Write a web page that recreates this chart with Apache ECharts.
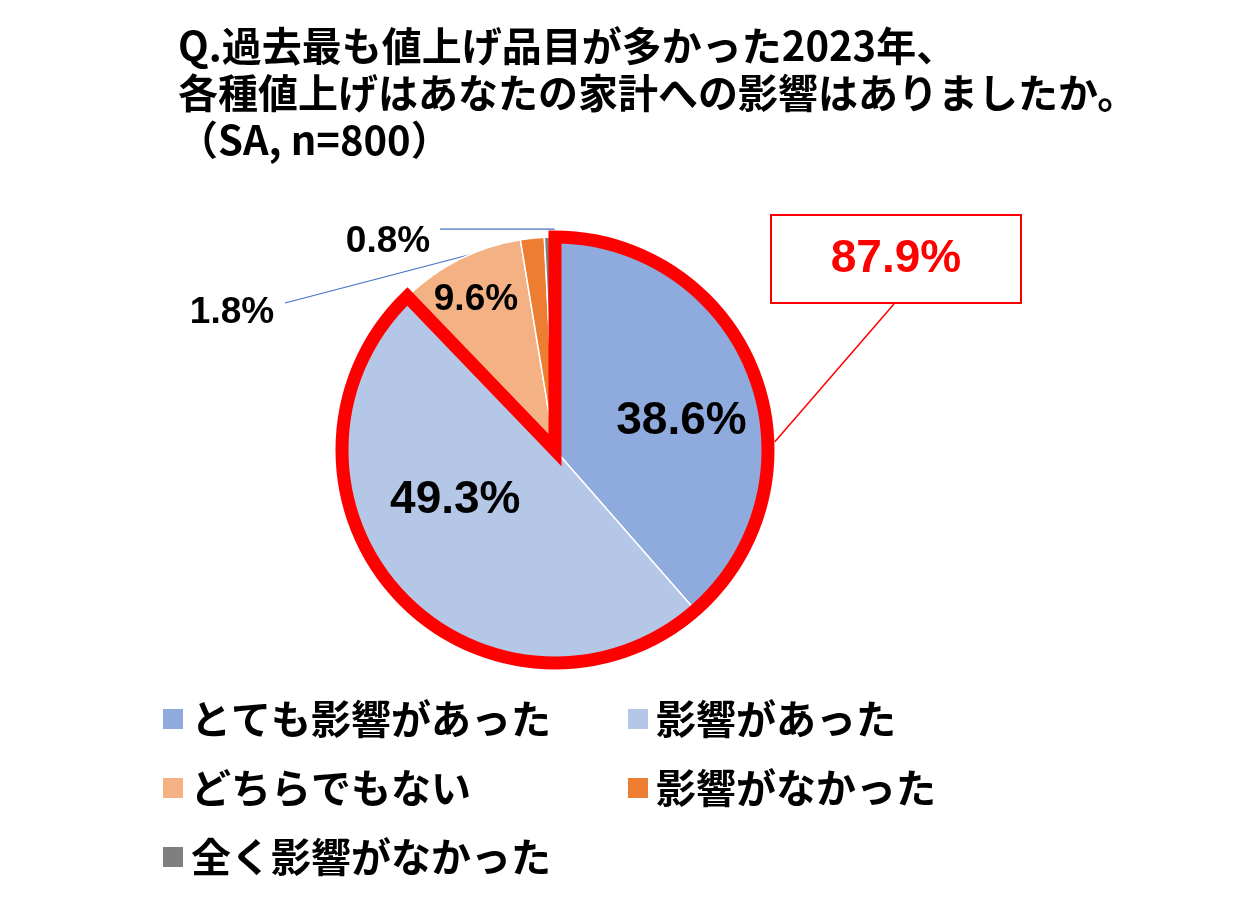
<!DOCTYPE html>
<html>
<head>
<meta charset="utf-8">
<script src="https://cdn.jsdelivr.net/npm/echarts@6/dist/echarts.min.js"></script>
<style>
html,body{margin:0;padding:0;background:#fff;}
#chart{width:1242px;height:898px;}
</style>
</head>
<body>
<div id="chart"></div>
<script>
// ---- data ----
const categories = ['とても影響があった', '影響があった', 'どちらでもない', '影響がなかった', '全く影響がなかった'];
const values = [38.6, 49.3, 9.6, 1.8, 0.8];
const highlightIndices = [0, 1];
const titleLines = ['Q.過去最も値上げ品目が多かった2023年、', '各種値上げはあなたの家計への影響はありましたか。', '（SA, n=800）'];

// ---- style ----
const colors = ['#8FAADC', '#B4C7E7', '#F4B183', '#ED7D31', '#7F7F7F'];
const FONT = "'Noto Sans CJK JP', sans-serif";
const NUMFONT = "'Liberation Sans', 'Noto Sans CJK JP', sans-serif";
const CX = 555, CY = 450, R = 213;
const titleTops = [26, 73, 120];
const insideLabelSize = [46, 46, 37];
const insideLabelOffset = [[24, 10], [-19, -24], [-30, -52]];
const outsideLabelPos = {3: [232, 313], 4: [388, 242]};

const total = values.reduce((a, b) => a + b, 0);
const highlightSum = highlightIndices.reduce((a, i) => a + values[i], 0);

function dirOf(frac) { // clockwise from top
  const a = Math.PI / 2 - frac * 2 * Math.PI;
  return [Math.cos(a), -Math.sin(a)];
}
function midFrac(i) {
  let c = 0;
  for (let k = 0; k < i; k++) c += values[k];
  return (c + values[i] / 2) / total;
}

const pieData = values.map((v, i) => {
  const d = { value: v, name: categories[i], itemStyle: { color: colors[i] } };
  if (i < 3) {
    d.label = {
      show: true, position: 'inside', formatter: v.toFixed(1) + '%',
      fontSize: insideLabelSize[i], fontWeight: 'bold', color: '#000', fontFamily: NUMFONT,
      offset: insideLabelOffset[i]
    };
    d.labelLine = { show: false };
  } else {
    d.label = {
      show: true, position: 'outside', formatter: v.toFixed(1) + '%',
      fontSize: 37, fontWeight: 'bold', color: '#000', fontFamily: NUMFONT
    };
    d.labelLine = { show: true, length: 5, length2: 5, lineStyle: { color: '#4472C4', width: 1.2 } };
  }
  return d;
});

const chart = echarts.init(document.getElementById('chart'), null, { renderer: 'canvas' });
const option = {
  backgroundColor: '#fff',
  animation: false,
  title: titleLines.map((t, i) => ({
    text: t,
    left: 178, top: titleTops[i], padding: 0,
    textStyle: { fontSize: 40, fontWeight: 'bold', color: '#000', fontFamily: FONT, lineHeight: 40 }
  })),
  legend: {
    data: categories,
    left: 163, top: 699, width: 940, padding: 0,
    orient: 'horizontal',
    icon: 'rect', itemWidth: 20, itemHeight: 20, itemGap: 29,
    itemStyle: { borderWidth: 0 },
    formatter: name => '{g|}{t|' + name + '}',
    textStyle: {
      fontSize: 40, fontWeight: 'bold', color: '#000', fontFamily: FONT,
      rich: {
        g: { width: 3, height: 40 },
        t: { width: 408, fontSize: 40, fontWeight: 'bold', color: '#000', fontFamily: FONT, lineHeight: 40 }
      }
    },
    selectedMode: false
  },
  series: [
    {
      type: 'pie',
      center: [CX, CY], radius: R,
      startAngle: 90, clockwise: true,
      avoidLabelOverlap: false,
      itemStyle: { borderColor: '#fff', borderWidth: 1.5 },
      data: pieData,
      labelLayout: function (p) {
        const i = p.dataIndex;
        if (i === 3) {
          const dir = dirOf(midFrac(i));
          const start = [CX + dir[0] * (R - 2), CY + dir[1] * R];
          return {
            x: outsideLabelPos[i][0], y: outsideLabelPos[i][1],
            align: 'center', verticalAlign: 'middle',
            labelLinePoints: [start, [outsideLabelPos[i][0] + 53, outsideLabelPos[i][1] - 10]]
          };
        }
        if (i === 4) {
          const dir = dirOf(midFrac(i));
          const sx = CX + dir[0] * R + 5;
          const sy = CY + dir[1] * R - 8;
          return {
            x: outsideLabelPos[i][0], y: outsideLabelPos[i][1],
            align: 'center', verticalAlign: 'middle',
            labelLinePoints: [[sx, sy], [outsideLabelPos[i][0] + 52, sy]]
          };
        }
      }
    },
    {
      type: 'pie',
      center: [CX, CY], radius: R,
      startAngle: 90, clockwise: true,
      silent: true,
      avoidLabelOverlap: false,
      data: [
        {
          value: highlightSum, name: 'highlight',
          itemStyle: { color: 'rgba(0,0,0,0)', borderColor: '#FF0000', borderWidth: 13, borderJoin: 'miter', borderMiterLimit: 10 },
          label: {
            show: true, position: 'outside', formatter: highlightSum.toFixed(1) + '%',
            fontSize: 46, fontWeight: 'bold', color: '#FF0000', fontFamily: NUMFONT,
            backgroundColor: '#fff', borderColor: '#FF0000', borderWidth: 2,
            width: 248, height: 86, lineHeight: 86, align: 'center'
          },
          labelLine: { show: true, length: 5, length2: 5, lineStyle: { color: '#FF0000', width: 1.5 } }
        },
        {
          value: total - highlightSum, name: 'rest',
          itemStyle: { color: 'rgba(0,0,0,0)', borderWidth: 0 },
          label: { show: false }, labelLine: { show: false }
        }
      ],
      labelLayout: function (p) {
        if (p.dataIndex === 0) {
          const dir = dirOf(0.244);
          const start = [CX + dir[0] * (R + 7), CY + dir[1] * (R + 7)];
          return {
            x: 896, y: 259, align: 'center', verticalAlign: 'middle',
            labelLinePoints: [start, [894, 304]]
          };
        }
      }
    }
  ]
};
chart.setOption(option);
</script>
</body>
</html>
